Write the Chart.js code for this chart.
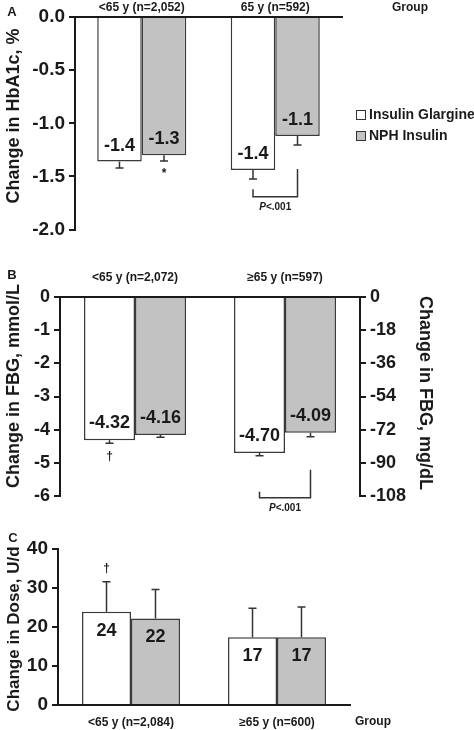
<!DOCTYPE html>
<html>
<head>
<meta charset="utf-8">
<script src="https://cdn.jsdelivr.net/npm/chart.js@4.4.1/dist/chart.umd.min.js"></script>
<style>
  body { margin: 0; background: #fff; }
  canvas { position: absolute; left: 0; }
</style>
</head>
<body>
<canvas id="panelA" width="474" height="245" style="top:0px"></canvas>
<canvas id="panelB" width="474" height="280" style="top:245px"></canvas>
<canvas id="panelC" width="474" height="205" style="top:525px"></canvas>
<script>
// --- data ---
const seriesNames = ['Insulin Glargine', 'NPH Insulin'];
const seriesFills = ['#ffffff', '#c2c2c2'];

// A: change in HbA1c, %
const hba1cGroups = ['<65 y (n=2,052)', '65 y (n=592)'];
const hba1cGlargine = [-1.36, -1.44];
const hba1cNph = [-1.30, -1.12];
const hba1cGlargineErr = [0.06, 0.085];
const hba1cNphErr = [0.055, 0.085];

// B: change in FBG, mmol/L (right axis in mg/dL)
const fbgGroups = ['<65 y (n=2,072)', '\u226565 y (n=597)'];
const fbgGlargine = [-4.32, -4.70];
const fbgNph = [-4.16, -4.09];
const fbgGlargineErr = [0.09, 0.09];
const fbgNphErr = [0.07, 0.12];

// C: change in dose, U/d
const doseGroups = ['<65 y (n=2,084)', '\u226565 y (n=600)'];
const doseGlargine = [23.9, 17.4];
const doseNph = [22.2, 17.4];
const doseGlargineErr = [7.7, 7.4];
const doseNphErr = [7.4, 7.7];

const FONT = '"Liberation Sans", Arial, Helvetica, sans-serif';
const INK = '#1a1a1a';
Chart.defaults.font.family = FONT;
Chart.defaults.color = INK;
Chart.defaults.animation = false;

const makeDatasets = (glargine, nph) => [
    { label: seriesNames[0], data: glargine, backgroundColor: seriesFills[0], borderColor: '#3a3a3a', borderWidth: 1.5 },
    { label: seriesNames[1], data: nph, backgroundColor: seriesFills[1], borderColor: '#3a3a3a', borderWidth: 1.5 }
];

const valueAxis = (min, max, step, width, fontSize, fmt, position) => ({
    position: position || 'left',
    min: min, max: max,
    ticks: { stepSize: step, padding: 4, font: { size: fontSize, weight: 'bold' }, callback: fmt || (v => v) },
    grid: { display: true, drawOnChartArea: false, drawTicks: true, tickLength: 6, color: INK, lineWidth: 2 },
    border: { display: true, color: INK, width: 2 },
    afterFit: scale => { scale.width = width; }
});

const groupAxis = (position, height, pad) => ({
    position: position,
    ticks: { padding: pad, font: { size: 12, weight: 'bold' } },
    grid: { display: false, drawTicks: false },
    border: { display: true, color: INK, width: 2 },
    afterFit: scale => { scale.height = height; }
});

const text = (ctx, str, x, y, size, opts = {}) => {
    ctx.save();
    ctx.font = `${opts.italic ? 'italic ' : ''}bold ${size}px ${FONT}`;
    ctx.fillStyle = INK;
    ctx.textAlign = opts.align || 'center';
    ctx.textBaseline = 'middle';
    if (opts.rotate) {
        ctx.translate(x, y);
        ctx.rotate(opts.rotate);
        ctx.fillText(str, 0, 0);
    } else {
        ctx.fillText(str, x, y);
    }
    ctx.restore();
};

// error bars + value labels on each bar
const drawBarExtras = (chart, errs, dir, labelOffset, digits) => {
    const ctx = chart.ctx;
    const y = chart.scales.y;
    ctx.save();
    ctx.strokeStyle = '#333';
    ctx.lineWidth = 1.5;
    chart.data.datasets.forEach((ds, i) => {
        chart.getDatasetMeta(i).data.forEach((bar, j) => {
            const v = ds.data[j];
            const yEnd = y.getPixelForValue(v + dir * errs[i][j]);
            ctx.beginPath();
            ctx.moveTo(bar.x, bar.y);
            ctx.lineTo(bar.x, yEnd);
            ctx.moveTo(bar.x - 4, yEnd);
            ctx.lineTo(bar.x + 4, yEnd);
            ctx.stroke();
            text(ctx, v.toFixed(digits), bar.x, bar.y + labelOffset, 18);
        });
    });
    ctx.restore();
};

const errEnd = (chart, errs, dir, i, j) =>
    chart.scales.y.getPixelForValue(chart.data.datasets[i].data[j] + dir * errs[i][j]);

const drawBracket = (chart, j, leftTop, rightTop, bottom) => {
    const ctx = chart.ctx;
    const y = chart.scales.y;
    const x1 = chart.getDatasetMeta(0).data[j].x;
    const x2 = chart.getDatasetMeta(1).data[j].x;
    const yb = y.getPixelForValue(bottom);
    ctx.save();
    ctx.strokeStyle = '#333';
    ctx.lineWidth = 1.5;
    ctx.beginPath();
    ctx.moveTo(x1, y.getPixelForValue(leftTop));
    ctx.lineTo(x1, yb);
    ctx.lineTo(x2, yb);
    ctx.lineTo(x2, y.getPixelForValue(rightTop));
    ctx.stroke();
    ctx.restore();
    const cx = (x1 + x2) / 2;
    ctx.save();
    ctx.font = `italic bold 10px ${FONT}`;
    const wP = ctx.measureText('P').width;
    ctx.font = `bold 10px ${FONT}`;
    const wRest = ctx.measureText('<.001').width;
    ctx.restore();
    const x0 = cx - (wP + wRest) / 2;
    text(ctx, 'P', x0, yb + 11, 10, { italic: true, align: 'left' });
    text(ctx, '<.001', x0 + wP, yb + 11, 10, { align: 'left' });
};

// --- Panel A ---
const hba1cErrs = [hba1cGlargineErr, hba1cNphErr];
new Chart(document.getElementById('panelA'), {
    type: 'bar',
    data: { labels: hba1cGroups, datasets: makeDatasets(hba1cGlargine, hba1cNph) },
    options: {
        responsive: false,
        layout: { padding: { left: 0, right: 132, top: 0, bottom: 15 } },
        datasets: { bar: { categoryPercentage: 0.667, barPercentage: 1.0 } },
        plugins: { legend: { display: false }, tooltip: { enabled: false } },
        scales: {
            x: groupAxis('top', 17, 2),
            y: valueAxis(-2, 0, 0.5, 75, 19, v => v.toFixed(1))
        }
    },
    plugins: [{
        id: 'extrasA',
        afterDatasetsDraw(chart) {
            const ctx = chart.ctx;
            drawBarExtras(chart, hba1cErrs, -1, -16, 1);
            const nph0 = chart.getDatasetMeta(1).data[0];
            text(ctx, '*', nph0.x, errEnd(chart, hba1cErrs, -1, 1, 0) + 13, 12);
            drawBracket(chart, 1, -1.62, -1.43, -1.69);
            text(ctx, 'A', 12, 12, 13);
            text(ctx, 'Change in HbA1c, %', 14, 116, 18, { rotate: -Math.PI / 2 });
            text(ctx, 'Group', 410, 8, 12);
            // legend
            seriesNames.forEach((name, i) => {
                const cy = 115 + i * 21;
                ctx.save();
                ctx.fillStyle = seriesFills[i];
                ctx.strokeStyle = '#333';
                ctx.lineWidth = 1;
                ctx.fillRect(356.5, cy - 4.5, 9, 9);
                ctx.strokeRect(356.5, cy - 4.5, 9, 9);
                ctx.restore();
                text(ctx, name, 369, cy, 14, { align: 'left' });
            });
        }
    }]
});

// --- Panel B ---
const fbgErrs = [fbgGlargineErr, fbgNphErr];
new Chart(document.getElementById('panelB'), {
    type: 'bar',
    data: { labels: fbgGroups, datasets: makeDatasets(fbgGlargine, fbgNph) },
    options: {
        responsive: false,
        layout: { padding: { left: 0, right: 0, top: 0, bottom: 29 } },
        datasets: { bar: { categoryPercentage: 0.68, barPercentage: 1.0 } },
        plugins: { legend: { display: false }, tooltip: { enabled: false } },
        scales: {
            x: groupAxis('top', 52, 12),
            y: valueAxis(-6, 0, 1, 60, 18),
            y2: valueAxis(-108, 0, 18, 114, 18, null, 'right')
        }
    },
    plugins: [{
        id: 'extrasB',
        afterDatasetsDraw(chart) {
            const ctx = chart.ctx;
            drawBarExtras(chart, fbgErrs, -1, -17, 2);
            const g0 = chart.getDatasetMeta(0).data[0];
            text(ctx, '\u2020', g0.x, errEnd(chart, fbgErrs, -1, 0, 0) + 13, 12);
            drawBracket(chart, 1, -5.87, -5.21, -6.05);
            text(ctx, 'B', 12, 30, 13);
            text(ctx, 'Change in FBG, mmol/L', 14, 141, 18, { rotate: -Math.PI / 2 });
            text(ctx, 'Change in FBG, mg/dL', 425, 148, 18, { rotate: Math.PI / 2 });
        }
    }]
});

// --- Panel C ---
const doseErrs = [doseGlargineErr, doseNphErr];
new Chart(document.getElementById('panelC'), {
    type: 'bar',
    data: { labels: doseGroups, datasets: makeDatasets(doseGlargine, doseNph) },
    options: {
        responsive: false,
        layout: { padding: { left: 0, right: 124, top: 24, bottom: 0 } },
        datasets: { bar: { categoryPercentage: 0.671, barPercentage: 1.0 } },
        plugins: { legend: { display: false }, tooltip: { enabled: false } },
        scales: {
            x: groupAxis('bottom', 25, 10),
            y: valueAxis(0, 40, 10, 58, 19)
        }
    },
    plugins: [{
        id: 'extrasC',
        afterDatasetsDraw(chart) {
            const ctx = chart.ctx;
            drawBarExtras(chart, doseErrs, 1, 19, 0);
            const g0 = chart.getDatasetMeta(0).data[0];
            text(ctx, '\u2020', g0.x, errEnd(chart, doseErrs, 1, 0, 0) - 13, 12);
            text(ctx, 'C', 13, 13, 13);
            text(ctx, 'Change in Dose, U/d', 14, 104, 17, { rotate: -Math.PI / 2 });
            text(ctx, 'Group', 373, 197, 12);
        }
    }]
});
</script>
</body>
</html>
